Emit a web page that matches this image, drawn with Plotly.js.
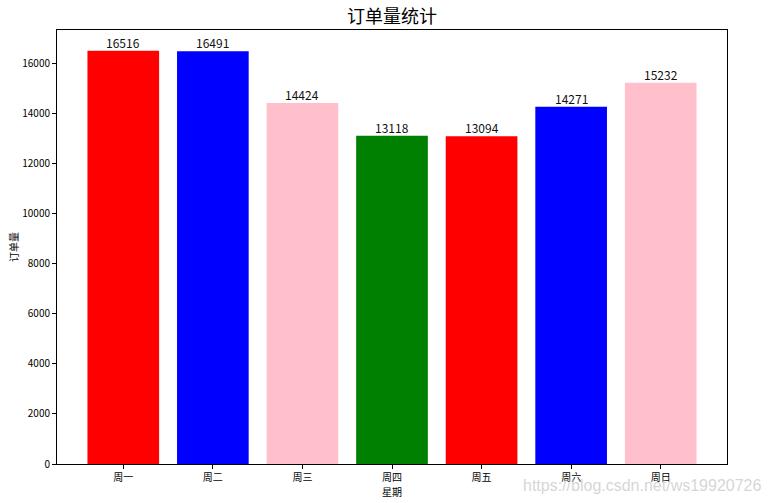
<!DOCTYPE html>
<html>
<head>
<meta charset="utf-8">
<script src="https://cdn.plot.ly/plotly-3.0.1.min.js"></script>
<style>
  body { margin: 0; background: #fff; }
  #chart { width: 773px; height: 503px; }
</style>
</head>
<body>
<div id="chart"></div>
<script>
var days = ['周一', '周二', '周三', '周四', '周五', '周六', '周日'];
var orders = [16516, 16491, 14424, 13118, 13094, 14271, 15232];
var barColors = ['red', 'blue', 'pink', 'green', 'red', 'blue', 'pink'];
var yTicks = [0, 2000, 4000, 6000, 8000, 10000, 12000, 14000, 16000];

var font = '"Noto Sans CJK SC", "DejaVu Sans", sans-serif';

var trace = {
  type: 'bar',
  x: days.map(function (d, i) { return i; }),
  y: orders,
  width: 0.8,
  marker: { color: barColors, line: { width: 0 } },
  hoverinfo: 'skip'
};

// value labels sit right on top of each bar
var labels = orders.map(function (v, i) {
  return {
    x: i, y: v, xref: 'x', yref: 'y',
    text: String(v), showarrow: false,
    yanchor: 'bottom', yshift: -2,
    font: { family: font, size: 12, color: '#111' }
  };
});

// blog watermark, bottom right
labels.push({
  xref: 'paper', yref: 'paper', x: 1.054, y: -0.05,
  xanchor: 'right', yanchor: 'middle',
  text: 'https://blog.csdn.net/ws19920726', showarrow: false,
  font: { family: '"Liberation Sans", Arial, sans-serif', size: 16, color: 'rgba(200,200,200,0.75)' }
});

var layout = {
  width: 773,
  height: 503,
  margin: { l: 56.5, r: 46.3, t: 29.7, b: 39 },
  paper_bgcolor: '#fff',
  plot_bgcolor: '#fff',
  showlegend: false,
  title: {
    text: '订单量统计',
    font: { family: font, size: 18, color: '#000' },
    x: 0.5, xref: 'paper', xanchor: 'center',
    y: 0.966, yanchor: 'middle'
  },
  xaxis: {
    range: [-0.74, 6.74],
    tickvals: [0, 1, 2, 3, 4, 5, 6],
    ticktext: days,
    ticks: 'outside', ticklen: 4, tickcolor: '#000',
    tickfont: { family: font, size: 10, color: '#000' },
    showgrid: false, zeroline: false,
    showline: true, linecolor: '#000', linewidth: 1, mirror: true,
    title: { text: '星期', font: { family: font, size: 10, color: '#000' }, standoff: 2 }
  },
  yaxis: {
    range: [0, 17341.8],
    tickvals: yTicks,
    ticktext: yTicks.map(String),
    ticks: 'outside', ticklen: 4, tickcolor: '#000',
    tickfont: { family: font, size: 10, color: '#000' },
    showgrid: false, zeroline: false,
    showline: true, linecolor: '#000', linewidth: 1, mirror: true,
    title: { text: '订单量', font: { family: font, size: 10, color: '#000' }, standoff: 1 }
  },
  annotations: labels
};

Plotly.newPlot('chart', [trace], layout, { displayModeBar: false, staticPlot: true });
</script>
</body>
</html>
